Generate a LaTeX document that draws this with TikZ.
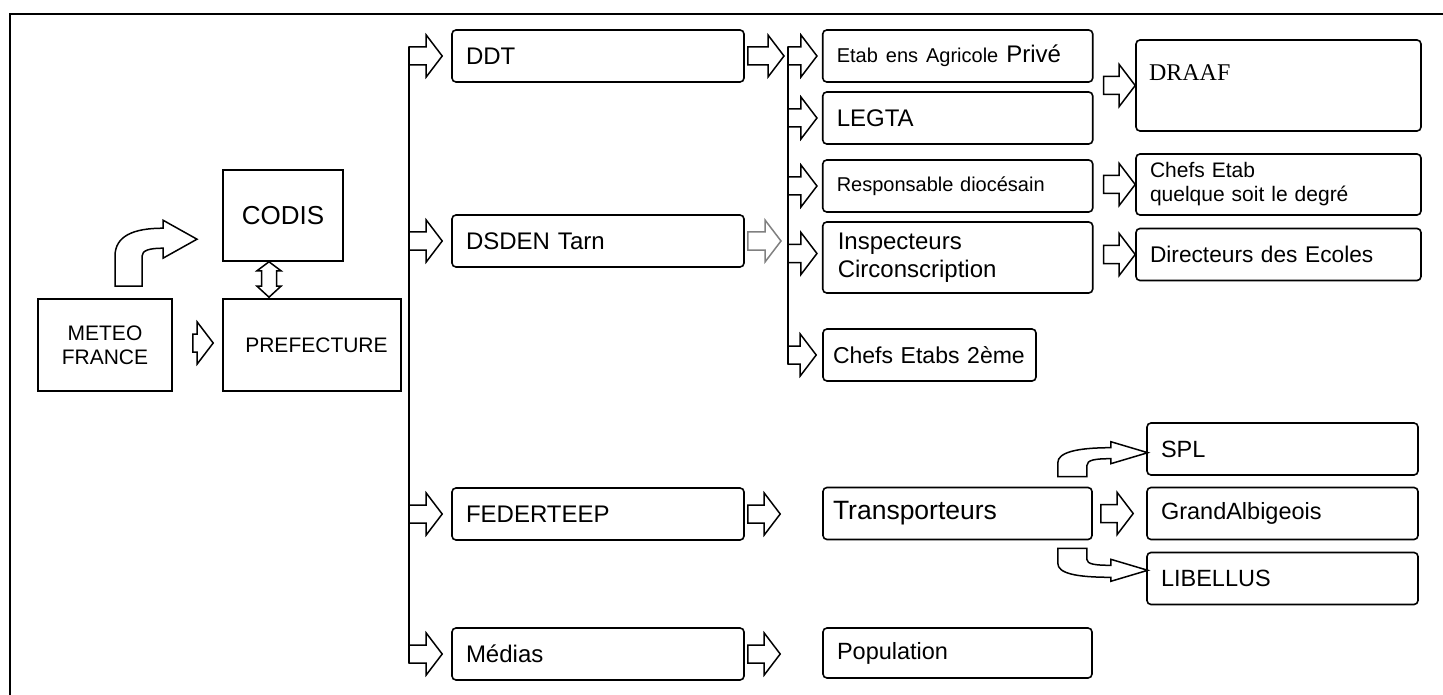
\documentclass[tikz,border=0pt]{standalone}
\usepackage{fontspec}
\setmainfont{Liberation Sans}
\newfontfamily\draaffont{Liberation Serif}
\usetikzlibrary{calc}

\tikzset{
  sqbox/.style={draw, line width=1.6pt, inner sep=0pt, align=center},
  rbox/.style={draw, rounded corners=4pt, line width=1.6pt, inner xsep=14pt,
    inner ysep=0pt, align=left, minimum height=52pt,
    font=\fontsize{24}{28}\selectfont},
  blockarrow/.style={draw, line width=1.5pt, fill=white, line join=miter},
  trunk/.style={line width=1.6pt},
}

% horizontal block arrow: #2 start point, #3 tip
\newcommand{\blockarr}[3][]{%
  \draw[blockarrow,#1] let \p1=#2, \p2=#3 in
    (\x1,\y1+9pt) -- (\x2-16pt,\y1+9pt) -- (\x2-16pt,\y1+21pt) -- (\x2,\y1)
    -- (\x2-16pt,\y1-21pt) -- (\x2-16pt,\y1-9pt) -- (\x1,\y1-9pt) -- cycle;}

\begin{document}
\begin{tikzpicture}[x=1pt,y=-1pt]
\useasboundingbox (0,0) rectangle (1443,695);
% Drawing frame
\draw[line width=2pt] (10,695) -- (10,14) -- (1443,14);
% Done with frame; drawing boxes
% Left part: METEO FRANCE, CODIS, PREFECTURE
\node[sqbox, minimum width=134pt, minimum height=92pt, font=\fontsize{21}{24}\selectfont] (meteo) at (105,345) {METEO\\FRANCE};
\node[sqbox, minimum width=178pt, minimum height=92pt, font=\fontsize{21}{24}\selectfont] (prefecture) at (312,345) {\hspace*{9pt}PREFECTURE};
\node[sqbox, minimum width=120pt, minimum height=91pt, font=\fontsize{26}{30}\selectfont] (codis) at (283,215.5) {CODIS};
% Column 1
\node[rbox, text width=264pt] (ddt) at (598,56) {DDT};
\node[rbox, text width=264pt] (dsden) at (598,241) {DSDEN Tarn};
\node[rbox, text width=264pt] (federteep) at (598,514) {FEDERTEEP};
\node[rbox, text width=264pt] (medias) at (598,654) {Médias};
% Column 2
\node[rbox, text width=242pt] (etab) at (957.75,56) {{\fontsize{20}{24}\selectfont Etab ens Agricole} Privé};
\node[rbox, text width=242pt] (legta) at (957.75,118) {LEGTA};
\node[rbox, text width=242pt, font=\fontsize{20}{24}\selectfont] (resp) at (957.75,186) {Responsable diocésain};
\node[rbox, text width=240pt, inner xsep=15pt, minimum height=71pt] (insp) at (957.75,257.5) {Inspecteurs\\Circonscription};
\node[rbox, text width=193pt, inner xsep=10pt, font=\fontsize{23}{28}\selectfont] (chefs2) at (929.5,355) {Chefs Etabs 2ème};
\node[rbox, text width=249pt, inner xsep=10pt, font=\fontsize{26.5}{30}\selectfont] (transporteurs) at (957.5,513.5) {Transporteurs};
\node[rbox, text width=241pt, minimum height=50pt, font=\fontsize{23.5}{28}\selectfont] (population) at (957.5,653) {Population};
% Column 3
\node[rbox, text width=259pt, inner xsep=13pt, minimum height=91pt, text height=16pt, text depth=25pt, font=\draaffont\fontsize{24}{28}\selectfont] (draaf) at (1278.5,85.5) {DRAAF};
\node[rbox, text width=257pt, minimum height=61pt, font=\fontsize{21}{24}\selectfont] (chefsetab) at (1278.5,184.5) {Chefs Etab\\quelque soit le degré};
\node[rbox, text width=257pt, font=\fontsize{22.7}{27}\selectfont] (directeurs) at (1278.5,254.5) {Directeurs des Ecoles};
\node[rbox, text width=243pt, font=\fontsize{23.5}{28}\selectfont] (spl) at (1282.5,449) {SPL};
\node[rbox, text width=243pt, font=\fontsize{23.5}{28}\selectfont] (grand) at (1282.5,513.5) {GrandAlbigeois};
\node[rbox, text width=243pt, font=\fontsize{23.5}{28}\selectfont] (libellus) at (1282.5,578.5) {LIBELLUS};
% Done with boxes; drawing trunks
\coordinate (trunkA) at (409,47);
\coordinate (trunkB) at (788,47);
\draw[trunk] (trunkA) -- ($(trunkA |- medias.west)+(0,9)$);
\draw[trunk] (trunkB) -- ($(trunkB |- chefs2.west)+(0,9)$);
% Done with trunks; drawing arrows
% METEO FRANCE -> PREFECTURE
\blockarr{($(meteo.east)+(20,-2)$)}{($(prefecture.west)+(-9,-2)$)}
% PREFECTURE trunk -> column 1
\blockarr{(trunkA |- ddt.west)}{($(ddt.west)+(-9,0)$)}
\blockarr{(trunkA |- dsden.west)}{($(dsden.west)+(-9,0)$)}
\blockarr{(trunkA |- federteep.west)}{($(federteep.west)+(-9,0)$)}
\blockarr{(trunkA |- medias.west)}{($(medias.west)+(-9,0)$)}
% DDT, DSDEN -> second trunk
\blockarr{($(ddt.east)+(3,0)$)}{($(trunkB |- ddt.east)+(-4,0)$)}
\blockarr[draw=black!50]{($(dsden.east)+(3,0)$)}{($(trunkB |- dsden.east)+(-7,0)$)}
% second trunk -> column 2
\blockarr{(trunkB |- etab.west)}{($(etab.west)+(-5,0)$)}
\blockarr{(trunkB |- legta.west)}{($(legta.west)+(-5,0)$)}
\blockarr{(trunkB |- resp.west)}{($(resp.west)+(-5,0)$)}
\blockarr{($(trunkB |- insp.west)+(0,-4)$)}{($(insp.west)+(-5,-4)$)}
\blockarr{(trunkB |- chefs2.west)}{($(chefs2.west)+(-6,0)$)}
% column 2 -> column 3
\blockarr{($(etab.east |- draaf.west)+(10,0)$)}{(draaf.west)}
\blockarr{($(resp.east |- chefsetab.west)+(10,0)$)}{(chefsetab.west)}
\blockarr{($(insp.east |- directeurs.west)+(10,0)$)}{(directeurs.west)}
% FEDERTEEP, Medias, Transporteurs
\blockarr{($(federteep.east)+(3,0)$)}{($(transporteurs.west)+(-42,0)$)}
\blockarr{($(medias.east)+(3,0)$)}{($(population.west |- medias.east)+(-42,0)$)}
\blockarr{($(transporteurs.east)+(8,0)$)}{($(grand.west)+(-13,0)$)}
% CODIS <-> PREFECTURE
\coordinate (dtop) at ($(codis.south)+(-14,0)$);
\coordinate (dbot) at (dtop |- prefecture.north);
\draw[blockarrow] let \p1=(dtop), \p2=(dbot) in
  (\x1,\y1) -- (\x1+12pt,\y1-9pt) -- (\x1+7.5pt,\y1-9pt) -- (\x1+7.5pt,\y2+12pt)
  -- (\x1+12pt,\y2+12pt) -- (\x1,\y2+1pt) -- (\x1-12pt,\y2+12pt) -- (\x1-7.5pt,\y2+12pt)
  -- (\x1-7.5pt,\y1-9pt) -- (\x1-12pt,\y1-9pt) -- cycle;
% METEO FRANCE -> CODIS (bent)
\begin{scope}[shift={(meteo.north)}]
\draw[blockarrow] (10,-12) -- (10,-42) .. controls (10,-62) and (28,-70) .. (58,-70)
  -- (58,-78) -- (92,-59) -- (58,-40) -- (58,-50)
  .. controls (45,-50) and (37,-48) .. (37,-42) -- (37,-12) -- cycle;
\end{scope}
% Transporteurs -> SPL (bent up)
\begin{scope}[shift={(transporteurs.north east)}]
\draw[blockarrow] (-35,-10) -- (-35,-24) .. controls (-35,-34) and (-17,-39) .. (18,-39)
  -- (18,-45) -- (55,-34) -- (18,-23) -- (18,-28)
  .. controls (3,-28) and (-6,-27) .. (-6,-21) -- (-6,-10) -- cycle;
\end{scope}
% Transporteurs -> LIBELLUS (bent down)
\begin{scope}[shift={(transporteurs.south east)}]
\draw[blockarrow] (-6,8) -- (-6,19) .. controls (-6,24) and (3,25) .. (18,25)
  -- (18,19) -- (55,30) -- (18,41) -- (18,37)
  .. controls (-17,37) and (-35,33) .. (-35,23) -- (-35,8) -- cycle;
\end{scope}
% Done with arrows
\end{tikzpicture}
\end{document}
